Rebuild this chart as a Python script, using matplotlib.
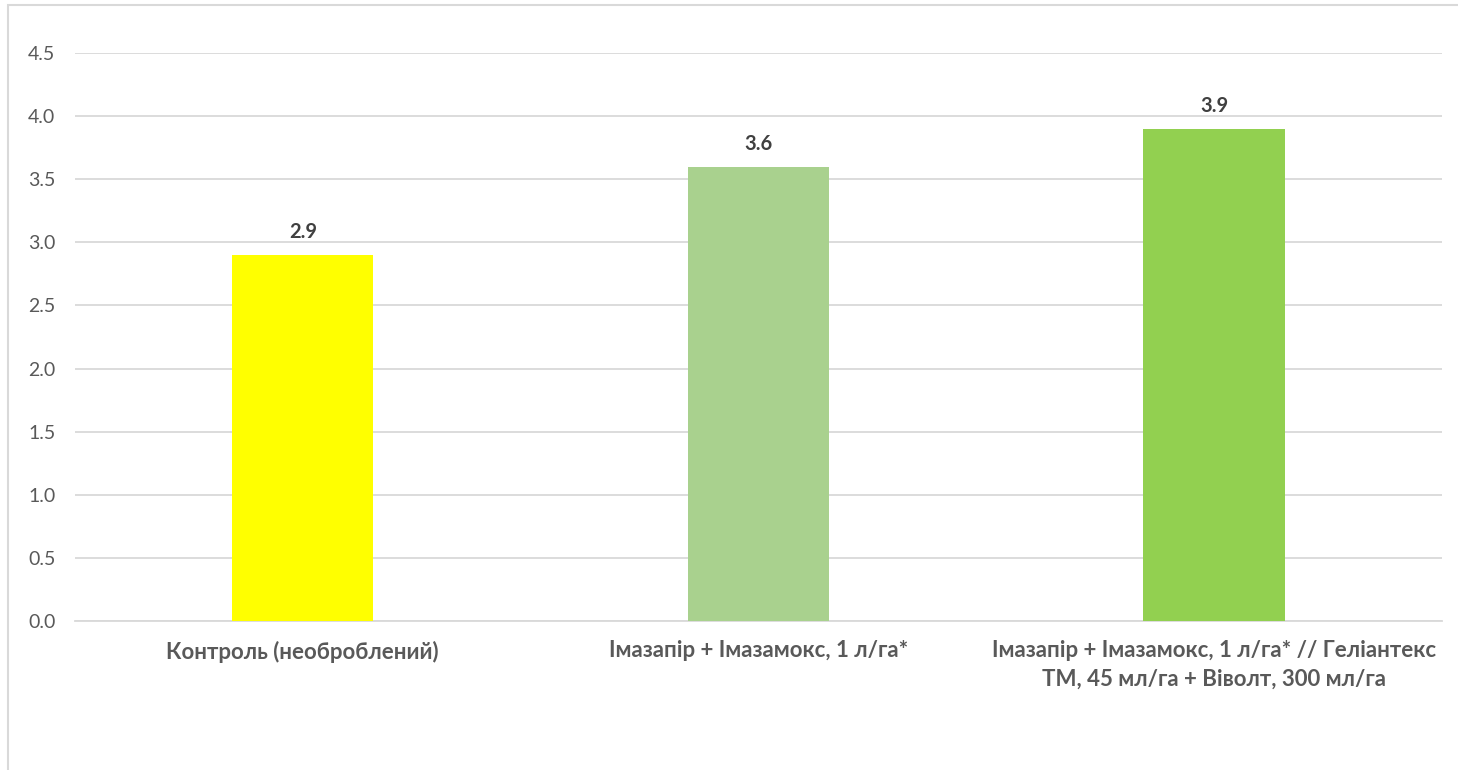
import numpy as np
import matplotlib.pyplot as plt
from matplotlib.patches import Rectangle

plt.rcParams['font.family'] = ['Lato', 'Noto Sans', 'DejaVu Sans']

categories = ['Контроль (необроблений)',
              'Імазапір + Імазамокс, 1 л/га*',
              'Імазапір + Імазамокс, 1 л/га* // Геліантекс\nТМ, 45 мл/га + Віволт, 300 мл/га']
values = [2.9, 3.6, 3.9]
colors = ['#FFFF00', '#A9D18E', '#92D050']
yticks = [0.0, 0.5, 1.0, 1.5, 2.0, 2.5, 3.0, 3.5, 4.0, 4.5]

fig = plt.figure(figsize=(14.58, 7.70), dpi=100)
ax = fig.add_axes([0.0514, 0.1935, 0.9376, 0.7377])

# рамка вокруг диаграммы
fig.patches.append(Rectangle((8 / 1458, -0.01), 1.02, 1 - 5 / 770 + 0.01,
                             transform=fig.transFigure, fill=False,
                             edgecolor='#D9D9D9', linewidth=1.5))

x = np.arange(len(categories))
ax.bar(x, values, width=0.31, color=colors, zorder=3)

for xi, v in zip(x, values):
    ax.annotate(f'{v:.1f}', (xi, v), xytext=(0, 9), textcoords='offset points',
                ha='center', va='bottom', fontsize=14.5, fontweight='bold',
                color='#404040')

ax.set_xlim(-0.5, 2.5)
ax.set_ylim(0, 4.5)
ax.set_yticks(yticks)
ax.set_yticklabels([f'{t:.1f}' for t in yticks])
ax.set_xticks(x)
ax.set_xticklabels(categories, fontweight='bold', fontsize=16, color='#595959',
                   linespacing=1.4)
ax.tick_params(axis='y', length=0, labelsize=14, labelcolor='#595959', pad=14)
ax.tick_params(axis='x', length=0, pad=14)
ax.grid(axis='y', color='#D9D9D9', linewidth=1.3, zorder=0)
for s in ['top', 'right', 'left']:
    ax.spines[s].set_visible(False)
ax.spines['bottom'].set_color('#D9D9D9')
ax.spines['bottom'].set_linewidth(1.3)

fig.savefig('out.png', dpi=100)
